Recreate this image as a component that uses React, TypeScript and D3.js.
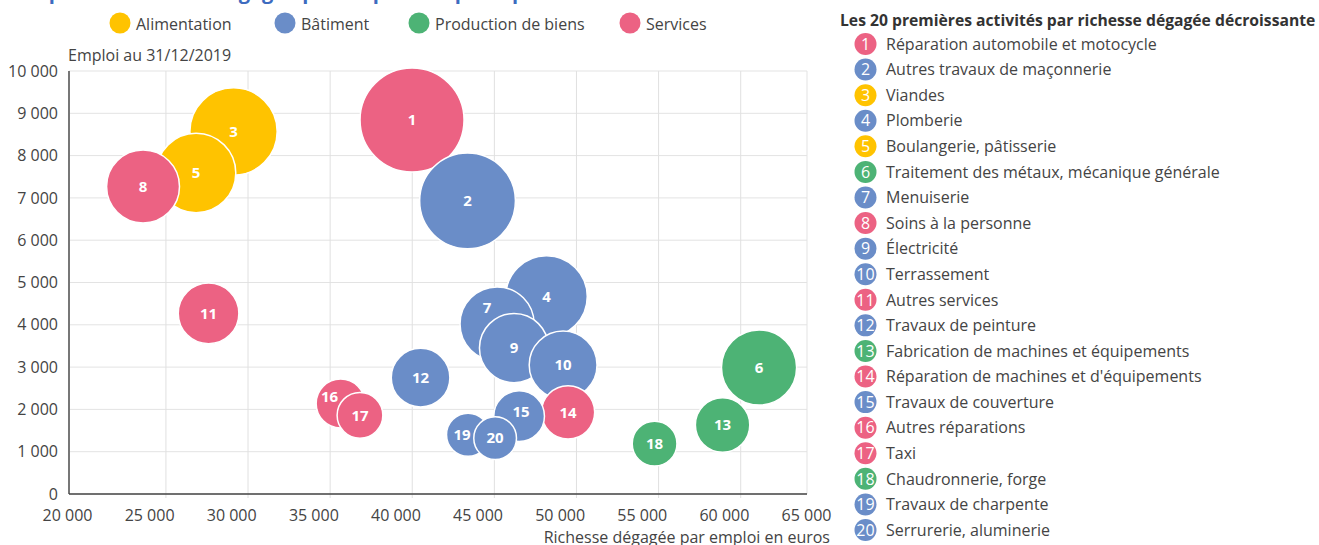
import React from "react";
import * as d3 from "d3";

// ---------- DATA ----------
const categories = ["Alimentation", "Bâtiment", "Production de biens", "Services"];
const categoryColors = ["#FFC300", "#6A8DC8", "#4DB375", "#EC6283"];

const activities = [
  "Réparation automobile et motocycle",
  "Autres travaux de maçonnerie",
  "Viandes",
  "Plomberie",
  "Boulangerie, pâtisserie",
  "Traitement des métaux, mécanique générale",
  "Menuiserie",
  "Soins à la personne",
  "Électricité",
  "Terrassement",
  "Autres services",
  "Travaux de peinture",
  "Fabrication de machines et équipements",
  "Réparation de machines et d'équipements",
  "Travaux de couverture",
  "Autres réparations",
  "Taxi",
  "Chaudronnerie, forge",
  "Travaux de charpente",
  "Serrurerie, aluminerie",
];
// index into categories
const activityCategory = [3, 1, 0, 1, 0, 2, 1, 3, 1, 1, 3, 1, 2, 3, 1, 3, 3, 2, 1, 1];
// Richesse dégagée par emploi (euros)
const richesseParEmploi = [
  40980, 44360, 30110, 49170, 27830, 62110, 46160, 24600, 47190, 50180,
  28590, 41500, 59890, 50480, 47500, 36630, 37810, 55750, 44390, 46040,
];
// Emploi au 31/12/2019
const emploi = [
  8840, 6930, 8570, 4670, 7590, 2990, 4020, 7270, 3450, 3050,
  4270, 2750, 1630, 1930, 1840, 2140, 1860, 1190, 1400, 1320,
];
// Richesse dégagée totale (millions d'euros) -> bubble size
const richesseTotale = [
  362, 307, 255, 222, 211, 189, 184, 178, 160, 154,
  123, 115, 99, 95, 86, 80, 70, 67, 62, 61,
];
const xTicks = [20000, 25000, 30000, 35000, 40000, 45000, 50000, 55000, 60000, 65000];
const yTicks = [0, 1000, 2000, 3000, 4000, 5000, 6000, 7000, 8000, 9000, 10000];

const title = "Emplois et richesse dégagée par emploi des principales activités";
const yAxisTitle = "Emploi au 31/12/2019";
const xAxisTitle = "Richesse dégagée par emploi en euros";
const listTitle = "Les 20 premières activités par richesse dégagée décroissante";

// ---------- LAYOUT ----------
const W = 1319;
const H = 545;
const PLOT = { left: 69, right: 807, top: 71, bottom: 494 };
const GRID_X_SHIFT = 16.3;
const LEGEND_X = [120, 285, 419, 630];
const LABEL_NUDGE: Record<number, [number, number]> = {
  6: [-10, -16],
  14: [2, -4],
  15: [-11, -7],
  18: [-6, 0],
};
const FONT = "'Open Sans', 'Noto Sans', sans-serif";
const TEXT = "#444";

const fr = d3.formatLocale({ decimal: ",", thousands: " ", grouping: [3], currency: ["", " €"] });
const fmt = fr.format(",");

export default function App() {
  const x = d3.scaleLinear().domain([20000, 65000]).range([67.5, 806.5]);
  const y = d3.scaleLinear().domain([0, 10000]).range([PLOT.bottom, PLOT.top]);
  const r = d3.scaleSqrt().domain([0, d3.max(richesseTotale) as number]).range([0, 52]);

  const listY = d3.scaleLinear().domain([0, activities.length - 1]).range([44, 530]);

  return (
    <svg width={W} height={H} style={{ display: "block", fontFamily: FONT }}>
      <style>{`body{margin:0}`}</style>
      <rect width={W} height={H} fill="#fff" />

      {/* title (mostly cut off above) */}
      <text x={18} y={-1} fontSize={20} fontWeight={700} fill="#3D6BBF">{title}</text>

      {/* legend */}
      {categories.map((c, i) => (
        <g key={c}>
          <circle cx={LEGEND_X[i]} cy={23} r={10.5} fill={categoryColors[i]} />
          <text x={LEGEND_X[i] + 16} y={29.5} fontSize={16} fill={TEXT}>{c}</text>
        </g>
      ))}

      <text x={PLOT.left - 1} y={61} fontSize={16} fill={TEXT}>{yAxisTitle}</text>

      {/* grid */}
      {yTicks.map((t) => (
        <line key={"gy" + t} x1={PLOT.left} x2={PLOT.right} y1={y(t)} y2={y(t)} stroke="#e3e3e3" strokeWidth={1} />
      ))}
      {xTicks.slice(1, -1).map((t) => (
        <line key={"gx" + t} x1={x(t) + GRID_X_SHIFT} x2={x(t) + GRID_X_SHIFT} y1={PLOT.top} y2={PLOT.bottom + 4} stroke="#e0e0e0" strokeWidth={1} />
      ))}
      <line x1={PLOT.right} x2={PLOT.right} y1={PLOT.top} y2={PLOT.bottom} stroke="#e3e3e3" />
      <line x1={PLOT.left} x2={PLOT.left} y1={PLOT.top} y2={PLOT.bottom} stroke="#777" strokeWidth={2} />
      <line x1={PLOT.left} x2={PLOT.right} y1={PLOT.bottom} y2={PLOT.bottom} stroke="#444" strokeWidth={1.5} />

      {/* axis labels */}
      {yTicks.map((t) => (
        <text key={"ly" + t} x={58} y={y(t)} dy="0.35em" textAnchor="end" fontSize={16} fill={TEXT}>{fmt(t)}</text>
      ))}
      {xTicks.map((t) => (
        <text key={"lx" + t} x={x(t)} y={521} textAnchor="middle" fontSize={16} fill={TEXT}>{fmt(t)}</text>
      ))}
      <text x={830} y={543} textAnchor="end" fontSize={16} fill={TEXT}>{xAxisTitle}</text>

      {/* bubbles */}
      {activities.map((a, i) => (
        <circle key={"b" + i} cx={x(richesseParEmploi[i])} cy={y(emploi[i])} r={r(richesseTotale[i])}
          fill={categoryColors[activityCategory[i]]} stroke="#fff" strokeWidth={1.5} />
      ))}
      {activities.map((a, i) => {
        const n = LABEL_NUDGE[i] || [0, 0];
        return (
          <text key={"bl" + i} x={x(richesseParEmploi[i]) + n[0]} y={y(emploi[i]) + n[1]} dy="0.35em"
            textAnchor="middle" fontSize={15} fontWeight={700} fill="#fff">{i + 1}</text>
        );
      })}

      {/* list */}
      <text x={840} y={25.5} fontSize={15.7} fontWeight={700} fill="#333">{listTitle}</text>
      {activities.map((a, i) => (
        <g key={"li" + i}>
          <circle cx={865.5} cy={listY(i)} r={11} fill={categoryColors[activityCategory[i]]} />
          <text x={865.5} y={listY(i)} dy="0.36em" textAnchor="middle" fontSize={16} fill="#fff">{i + 1}</text>
          <text x={886} y={listY(i)} dy="0.36em" fontSize={16} fill={TEXT}>{a}</text>
        </g>
      ))}
    </svg>
  );
}
